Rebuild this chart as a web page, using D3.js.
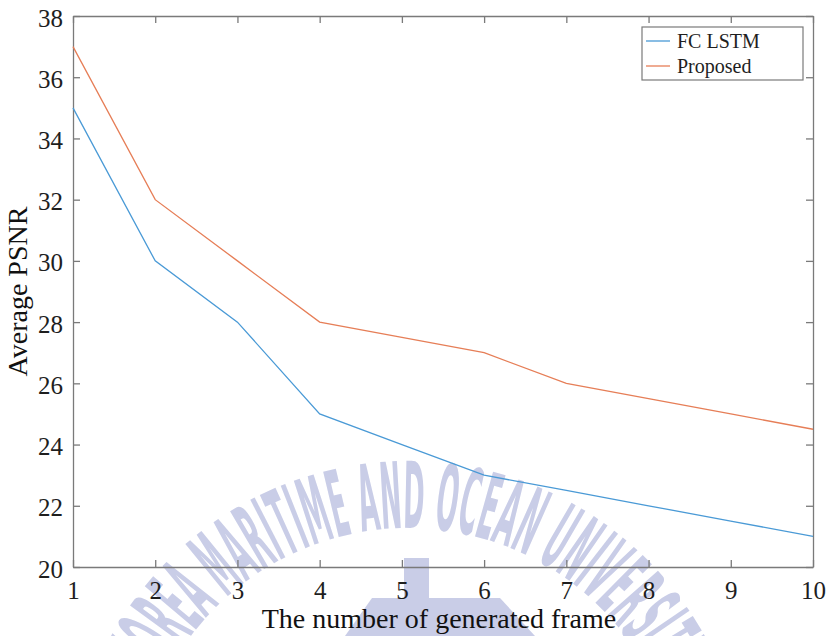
<!DOCTYPE html>
<html>
<head>
<meta charset="utf-8">
<script src="https://cdn.jsdelivr.net/npm/d3@7"></script>
<style>
  body { margin: 0; background: #fff; }
  svg text { font-family: "Liberation Serif", "Times New Roman", serif; }
  svg text.wm { font-family: "Liberation Sans Narrow", "DejaVu Sans Condensed", sans-serif; font-weight: bold; }
</style>
</head>
<body>
<div id="chart"></div>
<script>
// Data
const frames = [1, 2, 3, 4, 5, 6, 7, 8, 9, 10];
const fcLstm = [35, 30, 28, 25, 24, 23, 22.5, 22, 21.5, 21];
const proposed = [37, 32, 30, 28, 27.5, 27, 26, 25.5, 25, 24.5];
const xTicks = [1, 2, 3, 4, 5, 6, 7, 8, 9, 10];
const yTicks = [20, 22, 24, 26, 28, 30, 32, 34, 36, 38];
const seriesNames = ["FC LSTM", "Proposed"];
const seriesColors = ["#4a9ad6", "#e67e57"];

const totalW = 829, totalH = 636;
const margin = {top: 16, right: 16, bottom: 69, left: 73};
const width = totalW - margin.left - margin.right;
const height = totalH - margin.top - margin.bottom;

const svg = d3.select("#chart").append("svg")
    .attr("width", totalW)
    .attr("height", totalH);

// Faint university watermark behind the chart
const wm = svg.append("g").attr("fill", "#c9cde7");
const cx = 408, cy = 800, r = 272;
svg.append("defs").append("path")
    .attr("id", "wm-arc")
    .attr("d", "M" + (cx - r) + "," + cy + " A" + r + "," + r + " 0 0 1 " + (cx + r) + "," + cy);
wm.append("text")
    .attr("class", "wm")
    .attr("font-size", 92)
  .append("textPath")
    .attr("href", "#wm-arc")
    .attr("startOffset", "50%")
    .attr("text-anchor", "middle")
    .attr("textLength", 610)
    .attr("lengthAdjust", "spacingAndGlyphs")
    .text("KOREA MARITIME AND OCEAN UNIVERSITY");
wm.append("rect").attr("x", 404).attr("y", 558).attr("width", 25).attr("height", 80);
wm.append("path").attr("d", "M345,636 L372,598 L404,598 L404,636 Z");
wm.append("path").attr("d", "M429,598 L500,598 L535,636 L429,636 Z");

const g = svg.append("g")
    .attr("transform", "translate(" + margin.left + "," + margin.top + ")");

// Scales
const x = d3.scaleLinear().domain([1, 10]).range([0, width]);
const y = d3.scaleLinear().domain([20, 38]).range([height, 0]);

const axisColor = "#7a7a7a";

// Axes (ticks pointing inward, MATLAB style box)
const xAxis = g.append("g")
    .attr("transform", "translate(0," + height + ")")
    .call(d3.axisBottom(x).tickValues(xTicks).tickSizeInner(-7).tickSizeOuter(0).tickPadding(14));
const xTop = g.append("g")
    .call(d3.axisTop(x).tickValues(xTicks).tickSizeInner(-7).tickSizeOuter(0).tickFormat(""));
const yAxis = g.append("g")
    .call(d3.axisLeft(y).tickValues(yTicks).tickSizeInner(-7).tickSizeOuter(0).tickPadding(10));
const yRight = g.append("g")
    .attr("transform", "translate(" + width + ",0)")
    .call(d3.axisRight(y).tickValues(yTicks).tickSizeInner(-7).tickSizeOuter(0).tickFormat(""));

[xAxis, xTop, yAxis, yRight].forEach((a) => {
  a.attr("font-family", null).attr("font-size", 25);
  a.selectAll("path, line").attr("stroke", axisColor).attr("stroke-width", 1.3);
  a.selectAll("text").attr("fill", "#1e1e1e");
});
yAxis.selectAll("text").attr("dy", "0.4em");
xAxis.selectAll("text").attr("dy", "0.71em");

// Lines
const line = d3.line()
    .x((d, i) => x(frames[i]))
    .y((d) => y(d));

[fcLstm, proposed].forEach((s, i) => {
  g.append("path")
    .datum(s)
    .attr("fill", "none")
    .attr("stroke", seriesColors[i])
    .attr("stroke-width", 1.3)
    .attr("d", line);
});

// Legend
const legend = g.append("g")
    .attr("transform", "translate(" + (width - 171) + ",11)");
legend.append("rect")
    .attr("width", 161)
    .attr("height", 53)
    .attr("fill", "#fff")
    .attr("stroke", axisColor)
    .attr("stroke-width", 1.2);
seriesNames.forEach((name, i) => {
  const ly = 14 + i * 25;
  legend.append("line")
    .attr("x1", 4).attr("x2", 28)
    .attr("y1", ly).attr("y2", ly)
    .attr("stroke", seriesColors[i])
    .attr("stroke-width", 1.3);
  legend.append("text")
    .attr("x", 35)
    .attr("y", ly + 7)
    .attr("fill", "#1e1e1e")
    .attr("font-size", 20)
    .text(name);
});

// Axis titles
svg.append("text")
    .attr("x", margin.left + width / 2 - 4)
    .attr("y", 628)
    .attr("text-anchor", "middle")
    .attr("fill", "#111")
    .attr("font-size", 28)
    .text("The number of generated frame");

svg.append("text")
    .attr("transform", "rotate(-90)")
    .attr("x", -(margin.top + height / 2))
    .attr("y", 27)
    .attr("text-anchor", "middle")
    .attr("fill", "#111")
    .attr("font-size", 28)
    .text("Average PSNR");
</script>
</body>
</html>
